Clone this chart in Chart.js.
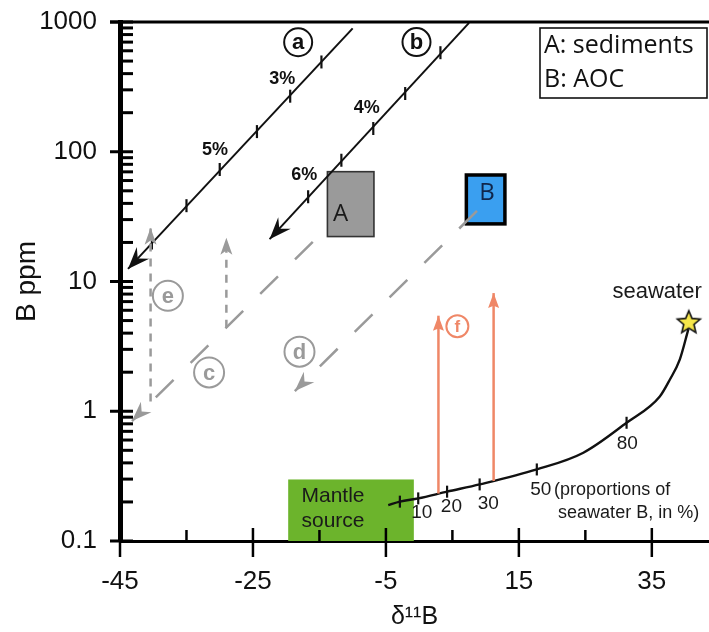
<!DOCTYPE html>
<html><head><meta charset="utf-8">
<script src="https://cdn.jsdelivr.net/npm/chart.js@4.4.1/dist/chart.umd.min.js"></script>
<style>html,body{margin:0;padding:0;background:#fff;} canvas{display:block;}</style>
</head><body>
<canvas id="c" width="709" height="632"></canvas>
<script>
// ---------------- data (axis units: δ11B, B ppm) ----------------
const xTickValues = [-45, -25, -5, 15, 35];
const xMinorTickValues = [-35, -15, 5, 25];
const yTickValues = [0.1, 1, 10, 100, 1000];

// mixing line (a) sediments
const lineA_x = [-10.0, -43.8];
const lineA_y = [892, 12.5];
const lineATicks_x = [-14.7, -19.4, -24.4, -30.0, -35.0, -40.2];
const lineATicks_y = [492, 268, 143, 73, 38.4, 19.8];
// mixing line (b) AOC
const lineB_x = [7.5, -22.5];
const lineB_y = [985, 21.2];
const lineBTicks_x = [3.2, -2.1, -6.9, -11.7, -16.7];
const lineBTicks_y = [580, 281, 151, 86, 45];
const pctLabels = ['3%', '5%', '4%', '6%'];
const pctLabel_x = [-20.6, -30.7, -7.9, -17.3];
const pctLabel_y = [362, 103, 217, 66];

// end-member boxes
const boxNames = ['A', 'B'];
const box_x1 = [-13.8, 7.1];
const box_x2 = [-6.8, 12.9];
const box_y1 = [22.2, 27.8];
const box_y2 = [70.2, 66.2];
const boxLabel_x = [-11.8, 10.2];
const boxLabel_y = [33.2, 48.1];
const mantle_x = [-19.7, -0.8];
const mantle_y = [0.1, 0.298];
const mantleText = ['Mantle', 'source'];
const mantleText_x = [-17.7, -17.7];
const mantleText_y = [0.221, 0.142];

// dashed paths c, d, e and orange arrows f
const pathC_x = [-16.0, -43.2];
const pathC_y = [20.2, 0.84];
const pathD_x = [8.7, -18.7];
const pathD_y = [35.0, 1.43];
const pathE1_x = [-40.4, -40.4];
const pathE1_y = [1.19, 25.9];
const pathE2_x = [-29.0, -29.0];
const pathE2_y = [4.4, 21.7];
const pathF1_x = [2.9, 2.9];
const pathF1_y = [0.232, 5.45];
const pathF2_x = [11.2, 11.2];
const pathF2_y = [0.29, 8.14];

// circled letters
const circleLetters = ['a', 'b', 'e', 'c', 'd', 'f'];
const circle_x = [-18.2, -0.4, -37.8, -31.6, -18.0, 5.75];
const circle_y = [698, 700, 7.76, 1.99, 2.88, 4.52];

// mantle - seawater mixing curve
const mix_x = [-4.65, -2.9, -0.14, 4.2, 9.1, 17.7, 24.7, 31.2, 36.2, 37.7, 39.2, 40.5];
const mix_y = [0.189, 0.201, 0.213, 0.24, 0.273, 0.356, 0.479, 0.815, 1.30, 1.75, 2.5, 4.3];
const mixTicks_x = [-2.9, -0.14, 4.2, 9.1, 17.7, 31.2];
const mixTicks_y = [0.201, 0.213, 0.24, 0.273, 0.356, 0.815];
const mixLabels = ['10', '20', '30', '50', '80'];
const mixLabel_x = [0.4, 4.85, 10.4, 18.3, 31.3];
const mixLabel_y = [0.165, 0.183, 0.193, 0.248, 0.56];
const seawater_x = [40.56];
const seawater_y = [4.9];

// ---------------- helpers ----------------
const zip = (xs, ys) => xs.map((x, i) => ({x, y: ys[i]}));
const FONT = "'Liberation Sans', Arial, sans-serif";
const GRAY = '#9a9a9a';
const ORANGE = '#ef8767';

function makeStar(r) {
  const s = Math.ceil(r * 2 + 4);
  const c = document.createElement('canvas');
  c.width = s; c.height = s;
  const g = c.getContext('2d');
  g.translate(s / 2, s / 2 + 1);
  g.beginPath();
  for (let i = 0; i < 10; i++) {
    const rr = i % 2 ? r * 0.45 : r;
    const a = -Math.PI / 2 + i * Math.PI / 5;
    g.lineTo(rr * Math.cos(a), rr * Math.sin(a));
  }
  g.closePath();
  g.fillStyle = '#f6e74a'; g.fill();
  g.lineWidth = 1.6; g.strokeStyle = '#111'; g.stroke();
  return c;
}

function arrowHead(ctx, x0, y0, x1, y1, len, half, notch, color) {
  const a = Math.atan2(y1 - y0, x1 - x0);
  ctx.save();
  ctx.translate(x1, y1); ctx.rotate(a);
  ctx.beginPath();
  ctx.moveTo(0, 0); ctx.lineTo(-len, -half); ctx.lineTo(-len * notch, 0); ctx.lineTo(-len, half);
  ctx.closePath();
  ctx.fillStyle = color; ctx.fill();
  ctx.restore();
}

const boxesPlugin = {
  id: 'boxes',
  beforeDatasetsDraw(chart) {
    const {ctx, scales: {x, y}} = chart;
    ctx.save();
    const mx1 = x.getPixelForValue(mantle_x[0]), mx2 = x.getPixelForValue(mantle_x[1]);
    const my1 = y.getPixelForValue(mantle_y[1]), my2 = y.getPixelForValue(mantle_y[0]);
    ctx.fillStyle = '#6cb42c';
    ctx.fillRect(mx1, my1, mx2 - mx1, my2 - my1);
    const fills = ['#9a9a9a', '#3a9ff0'];
    const strokes = ['#333', '#000'];
    const widths = [1.6, 3.5];
    for (let i = 0; i < boxNames.length; i++) {
      const x1 = x.getPixelForValue(box_x1[i]), x2 = x.getPixelForValue(box_x2[i]);
      const y1 = y.getPixelForValue(box_y2[i]), y2 = y.getPixelForValue(box_y1[i]);
      ctx.fillStyle = fills[i];
      ctx.fillRect(x1, y1, x2 - x1, y2 - y1);
      ctx.lineWidth = widths[i]; ctx.strokeStyle = strokes[i];
      ctx.strokeRect(x1, y1, x2 - x1, y2 - y1);
    }
    ctx.restore();
  }
};

const arrowsPlugin = {
  id: 'arrows',
  afterDatasetsDraw(chart) {
    const ctx = chart.ctx;
    chart.data.datasets.forEach((ds, i) => {
      if (!ds.arrowHead) return;
      const pts = chart.getDatasetMeta(i).data;
      const p0 = pts[pts.length - 2], p1 = pts[pts.length - 1];
      const h = ds.arrowHead;
      arrowHead(ctx, p0.x, p0.y, p1.x, p1.y, h[0], h[1], h[2], ds.borderColor);
    });
  }
};

const textPlugin = {
  id: 'texts',
  afterDatasetsDraw(chart) {
    const {ctx, scales: {x, y}, chartArea} = chart;
    const P = (xv, yv) => [x.getPixelForValue(xv), y.getPixelForValue(yv)];
    ctx.save();
    ctx.textBaseline = 'middle';
    ctx.textAlign = 'center';
    ctx.fillStyle = '#111';
    ctx.font = 'bold 18px ' + FONT;
    pctLabels.forEach((t, i) => { const [a, b] = P(pctLabel_x[i], pctLabel_y[i]); ctx.fillText(t, a, b); });
    ctx.font = "24px 'Open Sans', sans-serif";
    const boxTextColors = ['#1a1a1a', '#10264a'];
    boxNames.forEach((t, i) => { const [a, b] = P(boxLabel_x[i], boxLabel_y[i]); ctx.fillStyle = boxTextColors[i]; ctx.fillText(t, a, b); });
    ctx.textAlign = 'left';
    ctx.fillStyle = '#1a1a1a';
    ctx.font = '21px ' + FONT;
    mantleText.forEach((t, i) => { const [a, b] = P(mantleText_x[i], mantleText_y[i]); ctx.fillText(t, a, b); });
    ctx.textAlign = 'center';
    ctx.font = '19px ' + FONT;
    mixLabels.forEach((t, i) => { const [a, b] = P(mixLabel_x[i], mixLabel_y[i]); ctx.fillText(t, a, b); });
    ctx.textAlign = 'left';
    ctx.font = '18px ' + FONT;
    let [a1, b1] = P(20.3, 0.248); ctx.fillText('(proportions of', a1, b1);
    [a1, b1] = P(20.9, 0.165); ctx.fillText('seawater B, in %)', a1, b1);
    ctx.textAlign = 'center';
    ctx.font = '22px ' + FONT;
    [a1, b1] = P(35.8, 8.26); ctx.fillText('seawater', a1, b1);
    const cStroke = ['#111', '#111', GRAY, GRAY, GRAY, ORANGE];
    const cRad = [14, 14, 15, 15, 15, 11];
    const cFont = [22, 22, 22, 22, 22, 17];
    circleLetters.forEach((t, i) => {
      const [a, b] = P(circle_x[i], circle_y[i]);
      ctx.beginPath(); ctx.arc(a, b, cRad[i], 0, Math.PI * 2);
      ctx.lineWidth = 2; ctx.strokeStyle = cStroke[i]; ctx.stroke();
      ctx.fillStyle = cStroke[i];
      ctx.font = 'bold ' + cFont[i] + 'px ' + FONT;
      ctx.fillText(t, a, b + 1);
    });
    const lx = chartArea.right - 169, ly = chartArea.top + 6;
    ctx.lineWidth = 1.6; ctx.strokeStyle = '#111';
    ctx.strokeRect(lx, ly, 167, 70);
    ctx.fillStyle = '#111';
    ctx.textAlign = 'left';
    ctx.font = "25px 'Open Sans', sans-serif";
    ctx.fillText('A: sediments', lx + 4, ly + 18);
    ctx.fillText('B: AOC', lx + 4, ly + 52);
    ctx.restore();
  }
};

const axisPlugin = {
  id: 'axisDeco',
  afterDraw(chart) {
    const {ctx, scales: {x, y}, chartArea} = chart;
    ctx.save();
    ctx.strokeStyle = '#000';
    ctx.lineWidth = 3;
    ctx.beginPath(); ctx.moveTo(chartArea.left - 10, chartArea.top); ctx.lineTo(chartArea.right, chartArea.top); ctx.stroke();
    ctx.lineWidth = 3;
    yTickValues.forEach(v => {
      const py = y.getPixelForValue(v);
      ctx.beginPath(); ctx.moveTo(chartArea.left - 10, py); ctx.lineTo(chartArea.left + 13, py); ctx.stroke();
    });
    yTickValues.slice(0, -1).forEach(d => {
      for (let m = 2; m <= 9; m++) {
        const py = y.getPixelForValue(d * m);
        ctx.beginPath(); ctx.moveTo(chartArea.left, py); ctx.lineTo(chartArea.left + 13, py); ctx.stroke();
      }
    });
    ctx.lineWidth = 2.5;
    xTickValues.forEach(v => {
      const px = x.getPixelForValue(v);
      ctx.beginPath(); ctx.moveTo(px, chartArea.bottom - 13); ctx.lineTo(px, chartArea.bottom + 16); ctx.stroke();
    });
    xMinorTickValues.forEach(v => {
      const px = x.getPixelForValue(v);
      ctx.beginPath(); ctx.moveTo(px, chartArea.bottom - 11); ctx.lineTo(px, chartArea.bottom); ctx.stroke();
    });
    ctx.restore();
  }
};

const lineDs = (data, extra) => Object.assign({
  data, showLine: true, pointRadius: 0, borderColor: '#111', borderWidth: 2, clip: false, fill: false
}, extra);
const tickDs = (data, r) => ({data, pointStyle: 'line', pointRadius: r, rotation: 90, borderColor: '#111', borderWidth: 2.2, clip: false});

const chart = new Chart(document.getElementById('c'), {
  type: 'scatter',
  data: {
    datasets: [
      lineDs(zip(pathC_x, pathC_y), {borderColor: GRAY, borderWidth: 2.5, borderDash: [25, 24], arrowHead: [20, 7.5, 0.68]}),
      lineDs(zip(pathD_x, pathD_y), {borderColor: GRAY, borderWidth: 2.5, borderDash: [25, 24], arrowHead: [20, 7.5, 0.68]}),
      lineDs(zip(pathE1_x, pathE1_y), {borderColor: GRAY, borderWidth: 2.5, borderDash: [8, 7], arrowHead: [17, 6, 0.75]}),
      lineDs(zip(pathE2_x, pathE2_y), {borderColor: GRAY, borderWidth: 2.5, borderDash: [8, 7], arrowHead: [17, 6, 0.75]}),
      lineDs(zip(pathF1_x, pathF1_y), {borderColor: ORANGE, borderWidth: 2.5, arrowHead: [15, 5.5, 0.85]}),
      lineDs(zip(pathF2_x, pathF2_y), {borderColor: ORANGE, borderWidth: 2.5, arrowHead: [15, 5.5, 0.85]}),
      lineDs(zip(lineA_x, lineA_y), {arrowHead: [22, 8.5, 0.65]}),
      lineDs(zip(lineB_x, lineB_y), {arrowHead: [22, 8.5, 0.65]}),
      tickDs(zip(lineATicks_x, lineATicks_y), 6.5),
      tickDs(zip(lineBTicks_x, lineBTicks_y), 6.5),
      lineDs(zip(mix_x, mix_y), {borderWidth: 2.4, cubicInterpolationMode: 'monotone'}),
      tickDs(zip(mixTicks_x, mixTicks_y), 6),
      {data: zip(seawater_x, seawater_y), pointStyle: makeStar(12), pointRadius: 12, clip: false}
    ]
  },
  options: {
    responsive: false,
    animation: false,
    events: [],
    layout: {autoPadding: false, padding: {top: 22, right: 0, left: 0, bottom: 0}},
    plugins: {legend: {display: false}, tooltip: {enabled: false}},
    scales: {
      x: {
        type: 'linear', min: -45, max: 43.6,
        afterBuildTicks: s => { s.ticks = xTickValues.map(v => ({value: v})); },
        afterFit: s => { s.height = 91; s.paddingLeft = 0; s.paddingRight = 0; },
        grid: {display: false, drawTicks: false},
        border: {display: true, color: '#000', width: 3},
        ticks: {padding: 25, autoSkip: false, maxRotation: 0, color: '#111', font: {family: FONT, size: 26}},
        title: {display: true, text: 'δ¹¹B', color: '#111', font: {family: FONT, size: 25}, padding: {top: 0, bottom: 0}}
      },
      y: {
        type: 'logarithmic', min: 0.1, max: 1000,
        afterBuildTicks: s => { s.ticks = yTickValues.map(v => ({value: v})); },
        afterFit: s => { s.width = 120; s.paddingTop = 0; s.paddingBottom = 0; },
        grid: {display: false, drawTicks: false},
        border: {display: true, color: '#000', width: 5},
        ticks: {padding: 23, autoSkip: false, color: '#111', font: {family: FONT, size: 26}, callback: v => String(v)},
        title: {display: true, text: 'B ppm', color: '#111', font: {family: FONT, size: 28}, padding: {top: 10, bottom: 0}}
      }
    }
  },
  plugins: [boxesPlugin, arrowsPlugin, textPlugin, axisPlugin]
});
</script>
</body></html>
